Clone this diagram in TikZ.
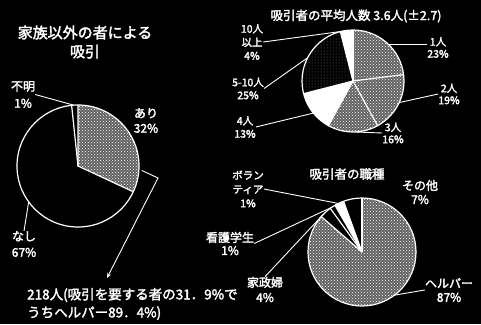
\documentclass[tikz,border=0pt]{standalone}
\usepackage{fontspec}
\newfontfamily\jp[BoldFont=*, BoldFeatures={FakeBold=2.2}]{Noto Sans CJK JP}
\usetikzlibrary{patterns,arrows.meta}
\begin{document}
\begin{tikzpicture}[x=1pt,y=-1pt,
  lbl/.style={text=white, font=\jp\bfseries\fontsize{11}{14}\selectfont, align=center, inner sep=0pt},
  lead/.style={draw=white, line width=0.9pt},
  pieline/.style={draw=white, line width=1.2pt},
  stip/.style={fill=white!38!black, postaction={pattern=crosshatch dots, pattern color=white}},
  dark/.style={pattern=dots, pattern color=white!45!black}]
\fill[black] (0,0) rectangle (481,324);
\useasboundingbox (0,0) rectangle (481,324);

% ---------- left pie ----------
\node[lbl, font=\jp\bfseries\fontsize{15}{19}\selectfont] (t1) at (85,42) {家族以外の者による\\吸引};
\begin{scope}[shift={(78,166)}, y=1pt]
  \fill[stip] (0,0) -- (90:61) arc[start angle=90,end angle=-25,radius=61] -- cycle;
  \draw[pieline] (0,0) circle[radius=61];
  \draw[pieline] (90:61) -- (0,0) -- (-25:61);
  \draw[pieline] (0,0) -- (96:61);
  \coordinate (pfumei) at (94:61);
  \coordinate (pnashi) at (216:61);
  \coordinate (pari) at (-4:64);
\end{scope}
\node[lbl, font=\jp\bfseries\fontsize{12}{17}\selectfont] (fumei) at (23,94.5) {不明\\1\%};
\node[lbl, font=\jp\bfseries\fontsize{12}{15}\selectfont] (ari) at (146,120.5) {あり\\32\%};
\node[lbl, font=\jp\bfseries\fontsize{12}{16}\selectfont] (nashi) at (24,244) {なし\\67\%};
\draw[lead] (fumei.east) -- (pfumei);
\draw[lead] (nashi.north) -- (pnashi);
\coordinate (bend) at (158,178);
\coordinate (tip) at (107,278);
\draw[lead, -{Stealth[length=5pt,width=4pt]}] (pari) -- (bend) -- (tip);

\node[lbl, anchor=west, align=left, font=\jp\bfseries\fontsize{13.5}{18}\selectfont] (bottom) at (27,304)
  {218人(吸引を要する者の31．9\%で\\うちヘルパー89．4\%)};

% ---------- top right pie ----------
\node[lbl, font=\jp\bfseries\fontsize{12.5}{15}\selectfont] (t2) at (356,16) {吸引者の平均人数 3.6人(±2.7)};
\begin{scope}[shift={(353,81)}, y=1pt]
  \fill[stip] (0,0) -- (90:51) arc[start angle=90,end angle=-118.8,radius=51] -- cycle;
  \fill[white] (0,0) -- (-118.8:51) arc[start angle=-118.8,end angle=-165.6,radius=51] -- cycle;
  \fill[dark] (0,0) -- (-165.6:51) arc[start angle=-165.6,end angle=-255.6,radius=51] -- cycle;
  \fill[white] (0,0) -- (104.4:51) arc[start angle=104.4,end angle=90,radius=51] -- cycle;
  \draw[pieline] (0,0) circle[radius=51];
  \foreach \a in {90,7.2,-61.2,-118.8,-165.6,104.4} \draw[pieline] (0,0) -- (\a:51);
  \coordinate (p10) at (104:51);
  \coordinate (p510) at (153:51);
  \coordinate (p4) at (219:51);
  \coordinate (p3) at (-88:51);
  \coordinate (p2) at (-25:51);
  \coordinate (p1) at (45:51);
\end{scope}
\node[lbl, font=\jp\bfseries\fontsize{10.5}{13.5}\selectfont] (l10) at (252,42) {10人\\以上\\4\%};
\node[lbl, font=\jp\bfseries\fontsize{10.5}{13}\selectfont] (l510) at (248,88.5) {5-10人\\25\%};
\node[lbl, font=\jp\bfseries\fontsize{10.5}{13}\selectfont] (l4) at (245,127) {4人\\13\%};
\node[lbl, font=\jp\bfseries\fontsize{10.5}{12}\selectfont] (l3) at (393,133) {3人\\16\%};
\node[lbl, font=\jp\bfseries\fontsize{10.5}{12}\selectfont] (l2) at (449,94) {2人\\19\%};
\node[lbl, font=\jp\bfseries\fontsize{10.5}{12}\selectfont] (l1) at (438,47.5) {1人\\23\%};
\draw[lead] (l10.east) -- (p10);
\draw[lead] (l510.east) -- (p510);
\draw[lead] (l4.east) -- (p4);
\draw[lead] (p3) -- (l3.west);
\draw[lead] (p2) -- (l2.west);
\draw[lead] (p1) -- (l1.west |- p1);

% ---------- bottom right pie ----------
\node[lbl, font=\jp\bfseries\fontsize{12.5}{15}\selectfont] (t3) at (347,174) {吸引者の職種};
\begin{scope}[shift={(362,252)}, y=1pt]
  \fill[stip] (0,0) -- (139:54) arc[start angle=139,end angle=450,radius=54] -- cycle;
  \fill[white] (0,0) -- (110:54) arc[start angle=110,end angle=120,radius=54] -- cycle;
  \draw[pieline] (0,0) circle[radius=54];
  \foreach \a in {90,110,120,126,139} \draw[pieline] (0,0) -- (\a:54);
  \coordinate (pvol) at (116:54);
  \coordinate (pkan) at (124:54);
  \coordinate (pkas) at (136:54);
  \coordinate (phel) at (-53:54);
\end{scope}
\node[lbl, font=\jp\bfseries\fontsize{10.5}{14}\selectfont] (lvol) at (248,189) {ボラン\\ティア\\1\%};
\node[lbl, font=\jp\bfseries\fontsize{12}{13}\selectfont] (lkan) at (230,243.5) {看護学生\\1\%};
\node[lbl, font=\jp\bfseries\fontsize{12}{15}\selectfont] (lkas) at (265,289.5) {家政婦\\4\%};
\node[lbl, font=\jp\bfseries\fontsize{12}{14}\selectfont] (lsono) at (420,192) {その他\\7\%};
\node[lbl, font=\jp\bfseries\fontsize{12}{14}\selectfont] (lhel) at (449,290) {ヘルパー\\87\%};
\draw[lead] (lvol.east) -- (pvol);
\draw[lead] (lkan.east) -- (pkan);
\draw[lead] (lkas.north) -- (pkas);
\draw[lead] (phel) -- (lhel.west);
\end{tikzpicture}
\end{document}
